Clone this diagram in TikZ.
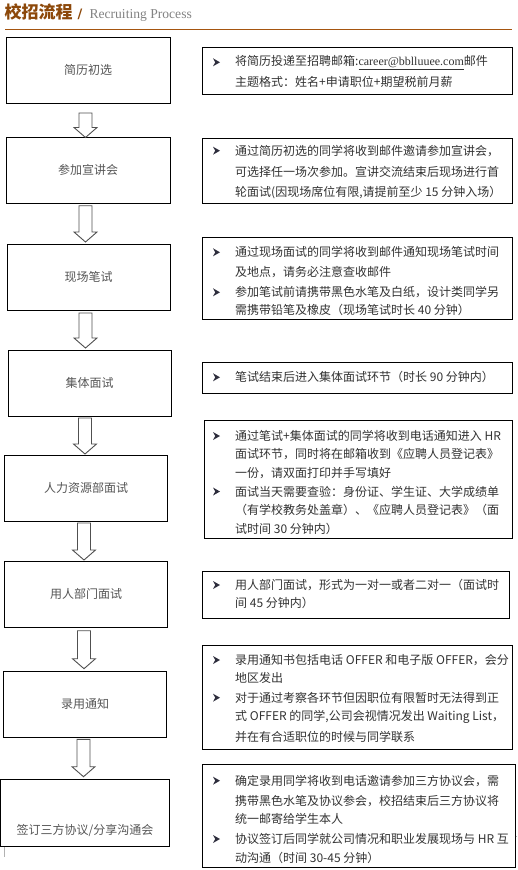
\documentclass[tikz,border=0pt]{standalone}
\usepackage{fontspec}
\setmainfont{Noto Sans CJK SC}
\newfontfamily\serifl{Liberation Serif}
\newfontfamily\dvs{DejaVu Sans}
\definecolor{titlebrown}{RGB}{140,72,10}
\definecolor{rulebrown}{RGB}{165,85,15}
\definecolor{subgray}{RGB}{130,130,130}
\definecolor{lefttxt}{RGB}{85,85,85}
\definecolor{righttxt}{RGB}{50,50,50}
\definecolor{arrowgray}{RGB}{80,80,80}
\definecolor{bulcol}{RGB}{45,45,60}
\newcommand\rline[3]{\node[rtxt] (#1) at (235,#2) {#3};}
\newcommand\rbul[2]{\coordinate (#1) at (213,#2);
  \fill[bulcol] (213,#2-4) -- (220,#2) -- (213,#2+4) -- (215.2,#2) -- cycle;}
\newcommand\blockarr[4]{% name, x, top, tip
  \coordinate (#1s) at (#2,#3);
  \coordinate (#1e) at (#2,#4);
  \draw[blockarrow] (#2-6.5,#3) -- (#2+6.5,#3) -- (#2+6.5,#4-10) -- (#2+11.5,#4-10)
    -- (#1e) -- (#2-11.5,#4-10) -- (#2-6.5,#4-10) -- cycle;}
\begin{document}
\begin{tikzpicture}[x=1pt,y=-1pt,
  leftbox/.style={draw=black, line width=1pt, minimum height=66, inner sep=0,
    text=lefttxt, font=\fontsize{12}{14}\selectfont},
  rbox/.style={draw=black, line width=1pt, anchor=north west, inner sep=0},
  rtxt/.style={anchor=west, inner sep=0, text=righttxt, font=\fontsize{12}{14}\selectfont},
  blockarrow/.style={draw=arrowgray, line width=0.9pt, fill=white, line join=miter}]
\useasboundingbox (0,0) rectangle (517,870);

% title
\node[anchor=west, inner sep=0, text=titlebrown, font=\fontsize{17}{17}\selectfont\bfseries] (title) at (4.5,12) {校招流程};
\node[anchor=base west, inner sep=0, text=titlebrown, font=\dvs\fontsize{13}{14}\selectfont\bfseries] (slash) at (77.5,19) {/};
\node[anchor=base west, inner sep=0, text=subgray, font=\serifl\fontsize{13.6}{14}\selectfont] (sub) at (89.3,19) {Recruiting Process};
\coordinate (ruleL) at (5,29.3);
\coordinate (ruleR) at (511.7,29.3);
\draw[rulebrown, line width=1pt] (ruleL) -- (ruleR);

% left boxes
\node[leftbox, minimum width=163.7] (l1) at (88.15,70.3) {简历初选};
\node[leftbox, minimum width=163.7] (l2) at (88.15,170.3) {参加宣讲会};
\node[leftbox, minimum width=162.7] (l3) at (88.65,277) {现场笔试};
\node[leftbox, minimum width=163] (l4) at (89.5,383) {集体面试};
\node[leftbox, minimum width=163.4] (l5) at (86,488.3) {人力资源部面试};
\node[leftbox, minimum width=163.4] (l6) at (86,594.3) {用人部门面试};
\node[leftbox, minimum width=163.4] (l7) at (85,704.3) {录用通知};
\node[leftbox, minimum width=169, minimum height=66.7] (l8) at (85.1,812.65) {};
\node[inner sep=0, text=lefttxt, font=\fontsize{12}{14}\selectfont] (l8t) at (85,830.7) {签订三方协议/分享沟通会};

% block arrows
\blockarr{a1}{85.5}{113}{137.5}
\blockarr{a2}{85.5}{205.7}{242}
\blockarr{a3}{85.5}{313}{348}
\blockarr{a4}{85}{418}{454}
\blockarr{a5}{84}{523}{560}
\blockarr{a6}{84}{630.7}{668.7}
\blockarr{a7}{83.5}{739.3}{776.7}

% right boxes
\node[rbox, minimum width=309.4, minimum height=47] (r1) at (202.3,47.3) {};
\node[rbox, minimum width=309.4, minimum height=65] (r2) at (202.3,138.3) {};
\node[rbox, minimum width=310, minimum height=82] (r3) at (202.3,237.3) {};
\node[rbox, minimum width=309.4, minimum height=31.6] (r4) at (202.3,361.7) {};
\node[rbox, minimum width=307.7, minimum height=118] (r5) at (204,420) {};
\node[rbox, minimum width=307, minimum height=47] (r6) at (202.3,570.7) {};
\node[rbox, minimum width=309.4, minimum height=104.3] (r7) at (202.3,645) {};
\node[rbox, minimum width=312.7, minimum height=102.7] (r8) at (202.3,764) {};

% box 1
\rbul{b1}{62.3}
\rline{t11}{62.3}{将简历投递至招聘邮箱:{\serifl\underline{career@bblluuee.com}}邮件}
\rline{t12}{81.7}{主题格式：姓名+申请职位+期望税前月薪}
% box 2
\rbul{b2}{150.7}
\rline{t21}{150.7}{通过简历初选的同学将收到邮件邀请参加宣讲会，}
\rline{t22}{171.7}{可选择任一场次参加。宣讲交流结束后现场进行首}
\rline{t23}{192.7}{轮面试(因现场席位有限,请提前至少 15 分钟入场）}
% box 3
\rbul{b31}{252.3}
\rline{t31}{252.3}{通过现场面试的同学将收到邮件通知现场笔试时间}
\rline{t32}{271.7}{及地点，请务必注意查收邮件}
\rbul{b32}{292.3}
\rline{t33}{292.3}{参加笔试前请携带黑色水笔及白纸，设计类同学另}
\rline{t34}{310}{需携带铅笔及橡皮（现场笔试时长 40 分钟）}
% box 4
\rbul{b4}{377.3}
\rline{t41}{377.3}{笔试结束后进入集体面试环节（时长 90 分钟内）}
% box 5
\rbul{b51}{436}
\rline{t51}{436}{通过笔试+集体面试的同学将收到电话通知进入 HR}
\rline{t52}{454.5}{面试环节，同时将在邮箱收到《应聘人员登记表》}
\rline{t53}{473}{一份，请双面打印并手写填好}
\rbul{b52}{491.5}
\rline{t54}{491.5}{面试当天需要查验：身份证、学生证、大学成绩单}
\rline{t55}{510}{（有学校教务处盖章）、《应聘人员登记表》（面}
\rline{t56}{528.5}{试时间 30 分钟内）}
% box 6
\rbul{b6}{585}
\rline{t61}{585}{用人部门面试，形式为一对一或者二对一（面试时}
\rline{t62}{603.3}{间 45 分钟内）}
% box 7
\rbul{b71}{660}
\rline{t71}{660}{录用通知书包括电话 OFFER 和电子版 OFFER，会分}
\rline{t72}{678.3}{地区发出}
\rbul{b72}{697.7}
\rline{t73}{697.7}{对于通过考察各环节但因职位有限暂时无法得到正}
\rline{t74}{716.7}{式 OFFER 的同学,公司会视情况发出 Waiting List，}
\rline{t75}{736.7}{并在有合适职位的时候与同学联系}
% box 8
\rbul{b81}{780.7}
\rline{t81}{780.7}{确定录用同学将收到电话邀请参加三方协议会，需}
\rline{t82}{800.7}{携带黑色水笔及协议参会，校招结束后三方协议将}
\rline{t83}{819.3}{统一邮寄给学生本人}
\rbul{b82}{839}
\rline{t84}{839}{协议签订后同学就公司情况和职业发展现场与 HR 互}
\rline{t85}{857.7}{动沟通（时间 30-45 分钟）}

% small stray marks
\coordinate (m1a) at (4,847);
\coordinate (m1b) at (4,857);
\draw[gray!60, line width=0.8pt] (m1a) -- (m1b);
\coordinate (m2a) at (515.5,836);
\coordinate (m2b) at (517,836);
\draw[gray!60, line width=0.8pt] (m2a) -- (m2b);
\end{tikzpicture}
\end{document}
